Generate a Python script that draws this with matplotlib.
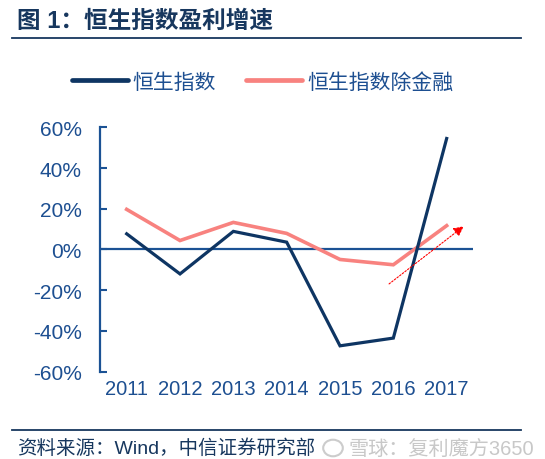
import matplotlib
matplotlib.use("Agg")
import matplotlib.pyplot as plt
from matplotlib.lines import Line2D
from matplotlib.patches import Circle

plt.rcParams['font.family'] = ['Liberation Sans', 'Noto Sans CJK SC', 'DejaVu Sans']

# ---- data ----
years = ["2011", "2012", "2013", "2014", "2015", "2016", "2017"]
hsi = [7.7, -12.0, 8.9, 3.6, -47.3, -43.5, 54.5]          # 恒生指数
hsi_ex_fin = [19.7, 4.4, 13.3, 7.9, -4.9, -7.5, 11.7]      # 恒生指数除金融
series_names = ["恒生指数", "恒生指数除金融"]
yticks = [-60, -40, -20, 0, 20, 40, 60]
ytick_labels = [f"{v}%" for v in yticks]
arrow_start = (4.92, -16.9)
arrow_end = (6.32, 11.4)

title = "图 1：恒生指数盈利增速"
source = "资料来源：Wind，中信证券研究部"
watermark = "雪球：复利魔方3650"

# ---- style ----
NAVY = "#0E3563"
PINK = "#F8827F"
AXBLUE = "#1B5294"
TXTBLUE = "#1D4F91"
TITLE = "#17375E"

fig = plt.figure(figsize=(5.45, 4.6), dpi=100)
ax = fig.add_axes([0.1835, 0.1898, 0.685, 0.5313])

x = list(range(len(years)))
ax.plot(x, hsi, color=NAVY, lw=2.3, solid_joinstyle='miter', zorder=3, label=series_names[0])
ax.plot(x, hsi_ex_fin, color=PINK, lw=2.6, solid_joinstyle='miter', zorder=2, label=series_names[1])
ax.axhline(0, color=AXBLUE, lw=1.6, zorder=1)

ax.set_xlim(-0.5, 6.5)
ax.set_ylim(-60, 60)
ax.set_yticks(yticks)
ax.set_yticklabels(ytick_labels)
ax.set_xticks(x)
ax.set_xticklabels(years)

for s in ["top", "right", "bottom"]:
    ax.spines[s].set_visible(False)
ax.spines["left"].set_color(AXBLUE)
ax.spines["left"].set_linewidth(1.6)

ax.tick_params(axis='y', direction='in', length=5, width=1.5, color=AXBLUE,
               labelsize=15, labelcolor=TXTBLUE, pad=13)
ax.tick_params(axis='x', length=0, labelsize=14.5, labelcolor=TXTBLUE, pad=5)

ax.annotate("", xy=arrow_end, xytext=arrow_start,
            arrowprops=dict(arrowstyle="-|>,head_length=0.6,head_width=0.3",
                            color="red", lw=0.8, linestyle=(0, (1.5, 1.5)),
                            shrinkA=0, shrinkB=0),
            zorder=4)

# legend
leg = ax.legend(loc='center', bbox_to_anchor=(0.482, 0.82), bbox_transform=fig.transFigure,
                ncol=2, frameon=False, fontsize=15, handlelength=2.65,
                handletextpad=0.25, columnspacing=1.45)
for ln in leg.get_lines():
    ln.set_linewidth(3.4)
    ln.set_solid_capstyle('round')
for t in leg.get_texts():
    t.set_color(TXTBLUE)

# title and rules
fig.text(17 / 545, 1 - 21 / 460, title, fontsize=17, fontweight='bold', color=TITLE,
         ha='left', va='center')
fig.add_artist(Line2D([12 / 545, 521 / 545], [1 - 38.5 / 460] * 2, color=TITLE, lw=1.3))
fig.add_artist(Line2D([12 / 545, 521 / 545], [1 - 431 / 460] * 2, color=TITLE, lw=1.3))

# footer
fig.text(17 / 545, 1 - 449 / 460, source, fontsize=14, color=TITLE, ha='left', va='center')
fig.add_artist(Circle((333 / 545, 1 - 449 / 460), 0.018, transform=fig.transFigure,
                      fill=False, ec="#CCCCCC", lw=1.5))
fig.text(349 / 545, 1 - 449 / 460, watermark, fontsize=14.5, color="#C8C8C8",
         ha='left', va='center')

fig.savefig("out.png", dpi=100)
